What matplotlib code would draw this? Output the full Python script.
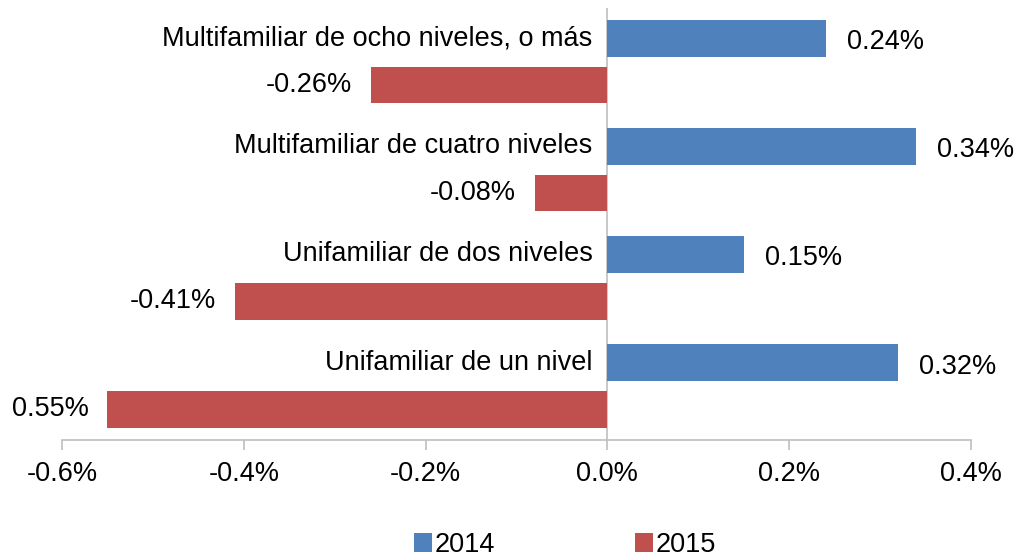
import matplotlib
matplotlib.use("Agg")
import matplotlib.pyplot as plt
import numpy as np

categories = ["Multifamiliar de ocho niveles, o más",
              "Multifamiliar de cuatro niveles",
              "Unifamiliar de dos niveles",
              "Unifamiliar de un nivel"]
series_names = ["2014", "2015"]
values_2014 = [0.24, 0.34, 0.15, 0.32]
values_2015 = [-0.26, -0.08, -0.41, -0.55]
labels_2014 = ["0.24%", "0.34%", "0.15%", "0.32%"]
labels_2015 = ["-0.26%", "-0.08%", "-0.41%", "0.55%"]
xticks = [-0.6, -0.4, -0.2, 0.0, 0.2, 0.4]
xticklabels = ["-0.6%", "-0.4%", "-0.2%", "0.0%", "0.2%", "0.4%"]

BLUE = "#4F81BD"
RED = "#C0504D"
GRAY = "#BFBFBF"
FS = 19.5

plt.rcParams['font.family'] = ['Liberation Sans', 'DejaVu Sans']

fig = plt.figure(figsize=(10.16, 5.57), dpi=100)
ax = fig.add_axes([62/1016, (557-440)/557, (971-62)/1016, (440-7.5)/557])

y = np.arange(len(categories))
off = 0.2166
h = 0.34
b1 = ax.barh(y - off, values_2014, height=h, color=BLUE, label=series_names[0], zorder=2)
b2 = ax.barh(y + off, values_2015, height=h, color=RED, label=series_names[1], zorder=2)

ax.set_xlim(-0.6, 0.4)
ax.set_ylim(len(categories) - 0.5, -0.5)

for yi, v, lab in zip(y, values_2014, labels_2014):
    ax.annotate(lab, (v, yi - off), xytext=(21, -4), textcoords="offset pixels",
                ha="left", va="center", fontsize=FS)
for yi, v, lab in zip(y, values_2015, labels_2015):
    ax.annotate(lab, (v, yi + off), xytext=(-19, 0), textcoords="offset pixels",
                ha="right", va="center", fontsize=FS)
for yi, cat in zip(y, categories):
    ax.annotate(cat, (0, yi - off), xytext=(-15, 0), textcoords="offset pixels",
                ha="right", va="center", fontsize=FS)

for s in ["top", "right", "left"]:
    ax.spines[s].set_visible(False)
ax.spines["bottom"].set_color(GRAY)
ax.spines["bottom"].set_linewidth(1.2)
ax.axvline(0, color=GRAY, lw=1.2, zorder=1)
ax.set_yticks([])
ax.set_xticks(xticks)
ax.set_xticklabels(xticklabels, fontsize=FS)
ax.tick_params(axis="x", colors=GRAY, length=7, width=1.2, pad=8, labelcolor="black")

leg = fig.legend(handles=[b1, b2], labels=series_names, loc="center",
                 bbox_to_anchor=(565/1016, 1 - 545/557), ncol=2, frameon=False,
                 fontsize=FS, handlelength=0.65, handleheight=0.65, handletextpad=0.1,
                 columnspacing=5.2)

fig.savefig("out.png", dpi=100)
